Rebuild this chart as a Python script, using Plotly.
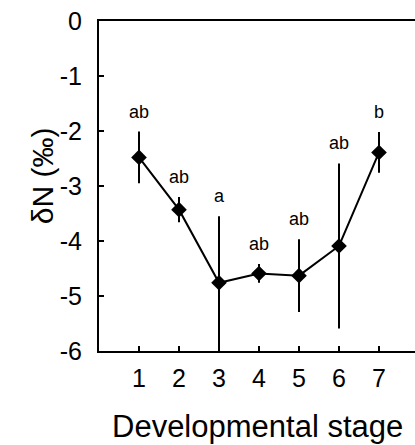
import plotly.graph_objects as go

stages = [1, 2, 3, 4, 5, 6, 7]
delta_n = [-2.48, -3.43, -4.76, -4.59, -4.63, -4.09, -2.39]
err = [0.47, 0.23, 1.21, 0.17, 0.66, 1.50, 0.37]
letters = ["ab", "ab", "a", "ab", "ab", "ab", "b"]
y_ticks = [0, -1, -2, -3, -4, -5, -6]
y_tick_labels = ["0", "-1", "-2", "-3", "-4", "-5", "-6"]

FONT = "Liberation Sans, Arial, sans-serif"

fig = go.Figure()
fig.add_trace(go.Scatter(
    x=stages, y=delta_n,
    mode="lines+markers",
    line=dict(color="black", width=2),
    marker=dict(symbol="diamond", size=12, color="black"),
    error_y=dict(type="data", array=err, visible=True, color="black",
                 thickness=2, width=0),
    showlegend=False,
))

for s, v, e, t in zip(stages, delta_n, err, letters):
    fig.add_annotation(x=s, y=v + e, text=t, showarrow=False,
                       yanchor="bottom", yshift=8,
                       font=dict(family=FONT, size=18, color="black"))

fig.add_annotation(xref="paper", yref="paper", x=-0.18, y=0.53,
                   text="δN (‰)", textangle=-90, showarrow=False,
                   xanchor="center", yanchor="middle",
                   font=dict(family=FONT, size=30, color="black"))
fig.add_annotation(xref="paper", yref="paper", x=0.5, y=-0.228,
                   text="Developmental stage", showarrow=False,
                   xanchor="center", yanchor="middle",
                   font=dict(family=FONT, size=31, color="black"))

fig.update_layout(
    width=415, height=445,
    margin=dict(l=99, r=0, t=21, b=94, pad=0),
    paper_bgcolor="white", plot_bgcolor="white",
    font=dict(family=FONT, color="black"),
    xaxis=dict(range=[0, 7.9], tickvals=stages, ticks="inside", ticklen=5,
               tickwidth=1.5, tickcolor="black", showline=True, linecolor="black",
               linewidth=2, mirror=True, showgrid=False, zeroline=False,
               tickfont=dict(family=FONT, size=25, color="black"),
               ticklabelstandoff=4),
    yaxis=dict(range=[-6, 0], tickvals=y_ticks, ticktext=y_tick_labels,
               ticks="inside", ticklen=5,
               tickwidth=1.5, tickcolor="black", showline=True, linecolor="black",
               linewidth=2, showgrid=False, zeroline=False,
               tickfont=dict(family=FONT, size=25, color="black"),
               ticklabelstandoff=10),
)

fig.write_html("out.html", config={"displayModeBar": False})

with open("out.html", "r", encoding="utf-8") as f:
    html = f.read()
html = html.replace("<body>", '<body style="margin:0;padding:0;overflow:hidden">', 1)
with open("out.html", "w", encoding="utf-8") as f:
    f.write(html)
